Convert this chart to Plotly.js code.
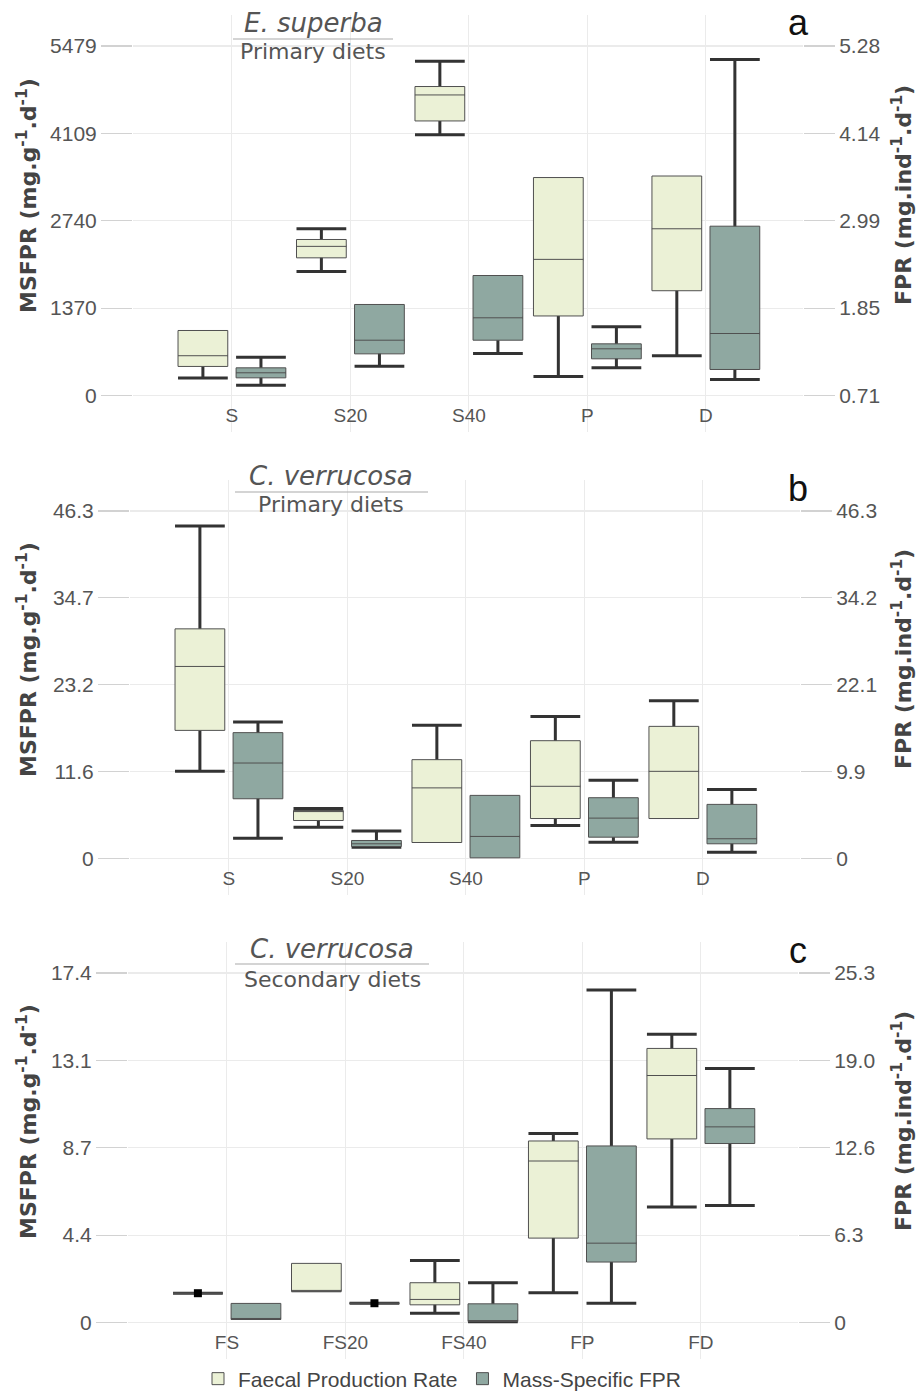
<!DOCTYPE html>
<html><head><meta charset="utf-8">
<script src="https://cdn.plot.ly/plotly-3.0.1.min.js"></script>
<style>html,body{margin:0;padding:0;background:#fff}#chart{width:918px;height:1394px}</style>
</head><body><div id="chart"></div>
<script>
// ---------- categories ----------
const catsPrimary = ['S', 'S20', 'S40', 'P', 'D'];
const catsSecondary = ['FS', 'FS20', 'FS40', 'FP', 'FD'];

// ---------- panel a : E. superba, primary diets ----------
// Faecal Production Rate (FPR, mg.ind-1.d-1) – right axis
const aFprLower  = [0.94, 2.33, 4.12, 0.96, 1.23];
const aFprQ1     = [1.09, 2.51, 4.30, 1.75, 2.08];
const aFprMedian = [1.23, 2.66, 4.64, 2.49, 2.89];
const aFprQ3     = [1.56, 2.75, 4.75, 3.56, 3.58];
const aFprUpper  = [1.56, 2.89, 5.08, 3.56, 3.58];
// Mass-Specific FPR (MSFPR, mg.g-1.d-1) – left axis
const aMsLower  = [161, 460, 658, 434, 251];
const aMsQ1     = [277, 653, 867, 575, 408];
const aMsMedian = [356, 867, 1218, 732, 972];
const aMsQ3     = [434, 1427, 1881, 810, 2654];
const aMsUpper  = [600, 1427, 1881, 1077, 5267];

// ---------- panel b : C. verrucosa, primary diets ----------
const bFprLower  = [9.94, 2.13, 0.00, 2.37, 3.35];
const bFprQ1     = [15.66, 3.07, 0.00, 3.35, 3.35];
const bFprMedian = [24.59, 4.40, 7.63, 7.85, 9.94];
const bFprQ3     = [29.84, 4.46, 11.57, 14.22, 16.22];
const bFprUpper  = [44.21, 4.74, 16.36, 17.61, 19.80];
const bMsLower  = [2.71, 1.51, 0.09, 2.18, 0.84];
const bMsQ1     = [7.96, 1.60, 0.09, 2.84, 1.96];
const bMsMedian = [12.72, 1.96, 2.94, 5.38, 2.63];
const bMsQ3     = [16.77, 2.40, 8.41, 8.10, 7.21];
const bMsUpper  = [18.19, 3.65, 8.41, 10.41, 9.21];

// ---------- panel c : C. verrucosa, secondary diets ----------
const cFprLower  = [2.12, 2.25, 0.67, 2.15, 8.36];
const cFprQ1     = [2.12, 2.25, 1.28, 6.11, 13.29];
const cFprMedian = [2.12, 2.30, 1.67, 11.69, 17.88];
const cFprQ3     = [2.12, 4.28, 2.88, 13.14, 19.84];
const cFprUpper  = [2.12, 4.28, 4.49, 13.68, 20.86];
const cMsLower  = [0.15, 0.96, 0.04, 0.96, 5.82];
const cMsQ1     = [0.15, 0.96, 0.05, 3.01, 8.91];
const cMsMedian = [0.20, 0.96, 0.08, 3.95, 9.74];
const cMsQ3     = [0.95, 0.96, 0.93, 8.79, 10.65];
const cMsUpper  = [0.95, 0.96, 1.98, 16.55, 12.65];

// ---------- axis ticks ----------
const aLeftTicks  = [0, 1369.75, 2739.5, 4109.25, 5479];
const aLeftText   = ['0', '1370', '2740', '4109', '5479'];
const aRightTicks = [0.71, 1.8525, 2.995, 4.1375, 5.28];
const aRightText  = ['0.71', '1.85', '2.99', '4.14', '5.28'];
const bLeftTicks  = [0, 11.575, 23.15, 34.725, 46.3];
const bLeftText   = ['0', '11.6', '23.2', '34.7', '46.3'];
const bRightTicks = [-2.2333, 9.9, 22.0333, 34.1667, 46.3];
const bRightText  = ['0', '9.9', '22.1', '34.2', '46.3'];
const cLeftTicks  = [0, 4.35, 8.7, 13.05, 17.4];
const cLeftText   = ['0', '4.4', '8.7', '13.1', '17.4'];
const cRightTicks = [0, 6.325, 12.65, 18.975, 25.3];
const cRightText  = ['0', '6.3', '12.6', '19.0', '25.3'];

const leftTitle  = '<b>MSFPR (mg.g<sup>-1</sup>.d<sup>-1</sup>)</b>';
const rightTitle = '<b>FPR (mg.ind<sup>-1</sup>.d<sup>-1</sup>)</b>';

// ---------- styling / geometry ----------
const W = 918, H = 1394;
const M = {l: 128, r: 115, t: 15, b: 35, autoexpand: false};
const PW = W - M.l - M.r, PH = H - M.t - M.b;
const px2x = p => (p - M.l) / PW;
const px2y = p => (H - M.b - p) / PH;
const FILL_FPR = '#ebf1d6', FILL_MS = '#8fa8a1';
const BOX_LINE = '#505050', WHISK = '#333333';
const BOXW = 0.42, OFF = 0.245;
const GRID = '#ebebeb', TICKC = '#d2d2d2';
const FONT = 'Liberation Sans, Arial, sans-serif';
const DV = 'DejaVu Sans, sans-serif';

const panels = [
  {cats: catsPrimary, xpx: [133, 803], ypx: [15, 432],
   fpr: {lo: aFprLower, q1: aFprQ1, md: aFprMedian, q3: aFprQ3, up: aFprUpper},
   ms:  {lo: aMsLower, q1: aMsQ1, md: aMsMedian, q3: aMsQ3, up: aMsUpper},
   lt: aLeftTicks, ltx: aLeftText, rt: aRightTicks, rtx: aRightText,
   sp: 'E. superba', diet: 'Primary diets', lab: 'a',
   tx: 313, t1: 23, line: [233, 393, 39], t2: 51, ty: 195},
  {cats: catsPrimary, xpx: [130, 800], ypx: [480, 895],
   fpr: {lo: bFprLower, q1: bFprQ1, md: bFprMedian, q3: bFprQ3, up: bFprUpper},
   ms:  {lo: bMsLower, q1: bMsQ1, md: bMsMedian, q3: bMsQ3, up: bMsUpper},
   lt: bLeftTicks, ltx: bLeftText, rt: bRightTicks, rtx: bRightText,
   sp: 'C. verrucosa', diet: 'Primary diets', lab: 'b',
   tx: 331, t1: 476, line: [235, 428, 492], t2: 504, ty: 659},
  {cats: catsSecondary, xpx: [128, 798], ypx: [942, 1359],
   fpr: {lo: cFprLower, q1: cFprQ1, md: cFprMedian, q3: cFprQ3, up: cFprUpper},
   ms:  {lo: cMsLower, q1: cMsQ1, md: cMsMedian, q3: cMsQ3, up: cMsUpper},
   lt: cLeftTicks, ltx: cLeftText, rt: cRightTicks, rtx: cRightText,
   sp: 'C. verrucosa', diet: 'Secondary diets', lab: 'c',
   tx: 332, t1: 949, line: [235, 429, 964], t2: 979, ty: 1121}
];

const PAD_TOP = 31, PAD_BOT = 36.5;
function rangeFor(ticks, ypx) {
  const h = ypx[1] - ypx[0];
  const span = h - PAD_TOP - PAD_BOT;
  const lo = ticks[0], hi = ticks[ticks.length - 1];
  const u = (hi - lo) / span;
  return [lo - PAD_BOT * u, hi + PAD_TOP * u];
}

const data = [];
const layout = {
  width: W, height: H, margin: M,
  paper_bgcolor: '#fff', plot_bgcolor: '#fff',
  font: {family: FONT, color: '#555'},
  showlegend: true,
  legend: {orientation: 'h', x: px2x(442), xanchor: 'center', y: px2y(1379), yanchor: 'middle',
           font: {size: 21, color: '#444', family: FONT}, bgcolor: 'rgba(0,0,0,0)'},
  annotations: [], shapes: []
};

function addSeries(p, s, xa, ya, offset, fill, name, showLeg) {
  const xs = p.cats.map((c, i) => i + offset);
  // whiskers (thick) – drawn underneath
  data.push({
    type: 'box', x: xs, xaxis: xa, yaxis: ya,
    q1: s.md, median: s.md, q3: s.md,
    lowerfence: s.lo.map((v, i) => v < s.q1[i] ? v : s.md[i]),
    upperfence: s.up.map((v, i) => v > s.q3[i] ? v : s.md[i]),
    width: BOXW, whiskerwidth: 1, boxpoints: false,
    line: {color: WHISK, width: 3}, fillcolor: 'rgba(0,0,0,0)',
    showlegend: false, hoverinfo: 'skip'
  });
  // box body (thin outline, filled)
  data.push({
    type: 'box', x: xs, xaxis: xa, yaxis: ya, name: name, legendgroup: name,
    q1: s.q1, median: s.md, q3: s.q3, lowerfence: s.q1, upperfence: s.q3,
    width: BOXW, whiskerwidth: 0, boxpoints: false,
    line: {color: BOX_LINE, width: 1}, fillcolor: fill,
    showlegend: showLeg
  });
  // collapsed boxes (all values equal) shown with a point marker
  const idx = s.q1.map((v, i) => i).filter(i => s.q1[i] === s.q3[i]);
  if (idx.length) {
    data.push({
      type: 'scatter', mode: 'markers', xaxis: xa, yaxis: ya,
      x: idx.map(i => xs[i]), y: idx.map(i => s.md[i]),
      marker: {symbol: 'square', size: 8, color: '#000'},
      showlegend: false, hoverinfo: 'skip'
    });
  }
}

panels.forEach((p, k) => {
  const xn = k + 1, yl = 2 * k + 1, yr = 2 * k + 2;
  const xa = 'x' + (xn === 1 ? '' : xn);
  const yaL = 'y' + (yl === 1 ? '' : yl);
  const yaR = 'y' + yr;
  const xdom = [px2x(p.xpx[0]), px2x(p.xpx[1])];
  const ydom = [px2y(p.ypx[1]), px2y(p.ypx[0])];

  addSeries(p, p.fpr, xa, yaR, -OFF, FILL_FPR, 'Faecal Production Rate', k === 0);
  addSeries(p, p.ms, xa, yaL, OFF, FILL_MS, 'Mass-Specific FPR', k === 0);

  layout['xaxis' + (xn === 1 ? '' : xn)] = {
    domain: xdom, anchor: yaL, range: [-0.835, 4.82],
    tickmode: 'array', tickvals: p.cats.map((c, i) => i), ticktext: p.cats,
    showgrid: true, gridcolor: GRID, gridwidth: 1, zeroline: false, showline: false,
    ticks: '', ticklabelposition: 'inside', ticklabelstandoff: 3,
    tickfont: {size: 19, color: '#555', family: FONT}
  };
  layout['yaxis' + (yl === 1 ? '' : yl)] = {
    domain: ydom, anchor: xa, range: rangeFor(p.lt, p.ypx),
    tickmode: 'array', tickvals: p.lt, ticktext: p.ltx,
    ticks: 'outside', ticklen: 31, tickcolor: TICKC, tickwidth: 1.2,
    showgrid: true, gridcolor: GRID, gridwidth: 1.2, zeroline: false, showline: false,
    tickfont: {size: 21, color: '#555', family: FONT}
  };
  layout['yaxis' + yr] = {
    overlaying: yaL, side: 'right', anchor: xa, range: rangeFor(p.rt, p.ypx),
    tickmode: 'array', tickvals: p.rt, ticktext: p.rtx,
    ticks: 'outside', ticklen: 31, tickcolor: TICKC, tickwidth: 1.2,
    showgrid: false, zeroline: false, showline: false,
    tickfont: {size: 21, color: '#555', family: FONT}
  };

  layout.annotations.push(
    {xref: 'paper', yref: 'paper', x: px2x(p.tx), y: px2y(p.t1), xanchor: 'center', yanchor: 'middle',
     text: '<i>' + p.sp + '</i>', showarrow: false, font: {family: DV, size: 26, color: '#555'}},
    {xref: 'paper', yref: 'paper', x: px2x(p.tx), y: px2y(p.t2), xanchor: 'center', yanchor: 'middle',
     text: p.diet, showarrow: false, font: {family: DV, size: 22, color: '#555'}},
    {xref: 'paper', yref: 'paper', x: px2x(798), y: px2y(p.ypx[0] + 8), xanchor: 'center', yanchor: 'middle',
     text: p.lab, showarrow: false, font: {family: FONT, size: 36, color: '#111'}},
    {xref: 'paper', yref: 'paper', x: px2x(27), y: px2y(p.ty), xanchor: 'center', yanchor: 'middle',
     textangle: -90, text: leftTitle, showarrow: false, font: {family: DV, size: 22, color: '#444'}},
    {xref: 'paper', yref: 'paper', x: px2x(902), y: px2y(p.ty), xanchor: 'center', yanchor: 'middle',
     textangle: -90, text: rightTitle, showarrow: false, font: {family: DV, size: 22, color: '#444'}}
  );
  layout.shapes.push({type: 'line', xref: 'paper', yref: 'paper',
    x0: px2x(p.line[0]), x1: px2x(p.line[1]), y0: px2y(p.line[2]), y1: px2y(p.line[2]),
    line: {color: '#aaaaaa', width: 1.2}});
});

Plotly.newPlot('chart', data, layout, {staticPlot: true, displayModeBar: false});
</script>
</body></html>
